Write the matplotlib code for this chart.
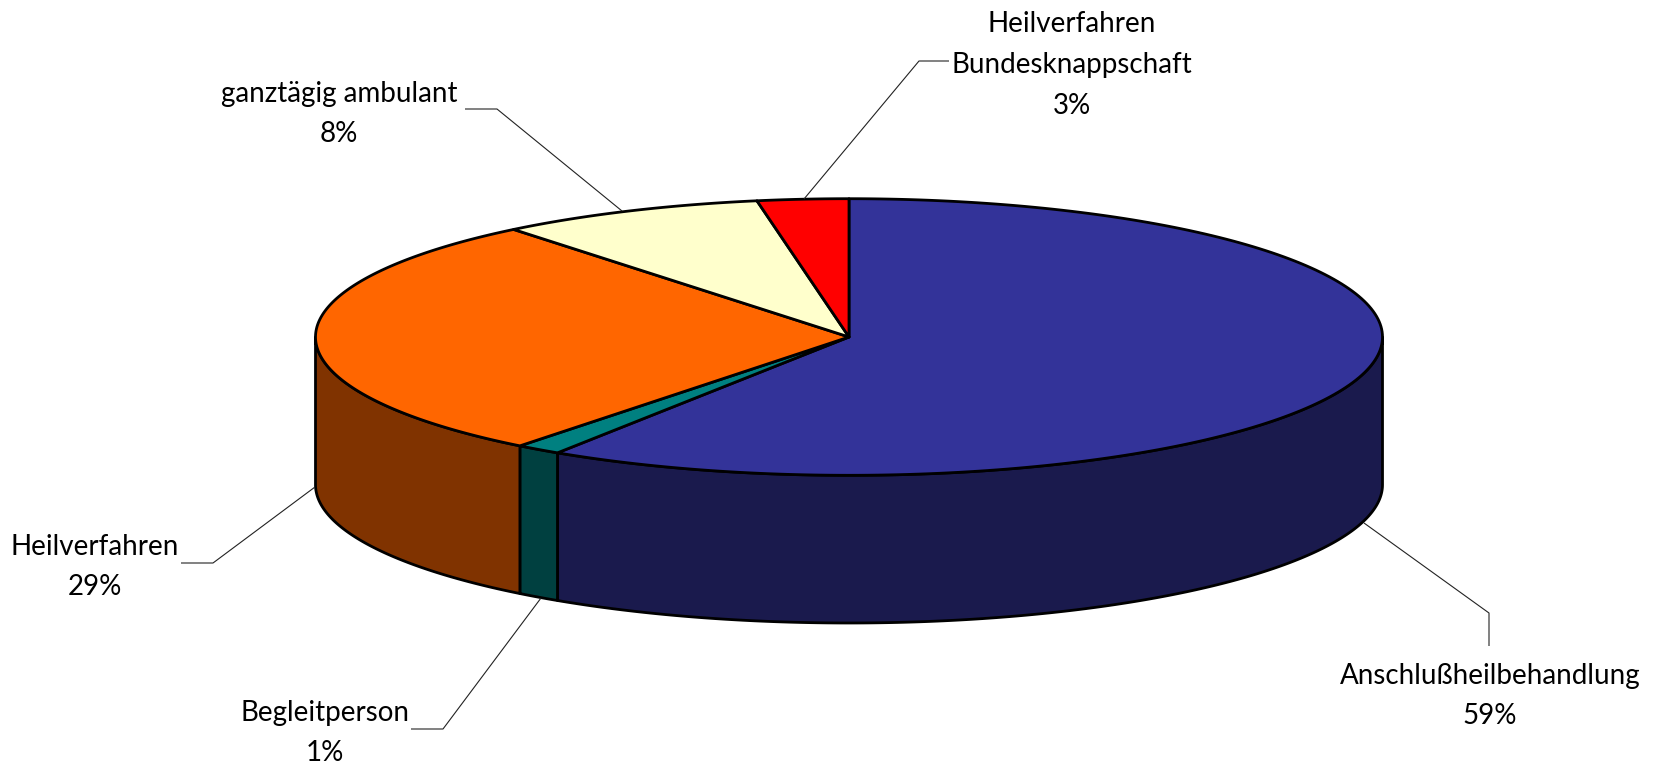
import matplotlib
matplotlib.use('Agg')
import matplotlib.pyplot as plt
from matplotlib.patches import Polygon
import numpy as np

# Werte in Prozent, im Uhrzeigersinn ab 12 Uhr
names = ['Anschlußheilbehandlung', 'Begleitperson', 'Heilverfahren',
         'ganztägig ambulant', 'Heilverfahren\nBundesknappschaft']
values = [59.2, 1.38, 28.6, 8.06, 2.76]
percent_labels = ['59%', '1%', '29%', '8%', '3%']
top_colors = ['#333399', '#008080', '#FF6600', '#FFFFCC', '#FF0000']
side_colors = ['#1A1A4D', '#004040', '#803300', '#80804D', '#800000']

# Geometrie der Scheibe in Pixeln
cx, cy = 849, 337
rx, ry = 533.5, 138.3
depth = 147.7

# Beschriftungen: Textmitte und Führungslinie
label_pos = [(1490, 696), (325, 733), (95, 567), (339, 114), (1072, 65)]
leaders = [
    [(1364, 523), (1489, 613), (1489, 646)],
    [(541, 598), (443, 729), (411, 729)],
    [(315, 487), (213, 563), (181, 563)],
    [(622, 211), (497, 109), (465, 109)],
    [(804, 199), (919, 61), (949, 61)],
]


def rim(t_from, t_to):
    t = np.radians(np.linspace(t_from, t_to, 200))
    return cx + rx * np.sin(t), cy - ry * np.cos(t)


fig = plt.figure(figsize=(16.55, 7.67), dpi=100)
ax = fig.add_axes([0, 0, 1, 1])
ax.set_xlim(0, 1655)
ax.set_ylim(767, 0)
ax.axis('off')

edges = np.concatenate([[0], np.cumsum(values) / sum(values) * 360])

# Seitenwand, sichtbar nur in der vorderen Hälfte (90° bis 270°)
for i in range(len(values)):
    t0, t1 = max(edges[i], 90), min(edges[i + 1], 270)
    if t0 >= t1:
        continue
    x, y = rim(t0, t1)
    pts = np.concatenate([np.column_stack([x, y]),
                          np.column_stack([x[::-1], y[::-1] + depth])])
    ax.add_patch(Polygon(pts, closed=True, facecolor=side_colors[i],
                         edgecolor='black', linewidth=2.0, joinstyle='round'))

# Deckfläche
for i in range(len(values)):
    x, y = rim(edges[i], edges[i + 1])
    pts = np.concatenate([[(cx, cy)], np.column_stack([x, y])])
    ax.add_patch(Polygon(pts, closed=True, facecolor=top_colors[i],
                         edgecolor='black', linewidth=2.0, joinstyle='round'))

# Beschriftung
for i in range(len(values)):
    lx, ly = zip(*leaders[i])
    ax.plot(lx, ly, color='#222222', linewidth=0.8, solid_capstyle='butt')
    ax.text(label_pos[i][0], label_pos[i][1], names[i] + '\n' + percent_labels[i],
            ha='center', va='center', multialignment='center',
            family='Lato', fontsize=20, color='black', linespacing=1.7)

fig.savefig('out.png', dpi=100, facecolor='white')
